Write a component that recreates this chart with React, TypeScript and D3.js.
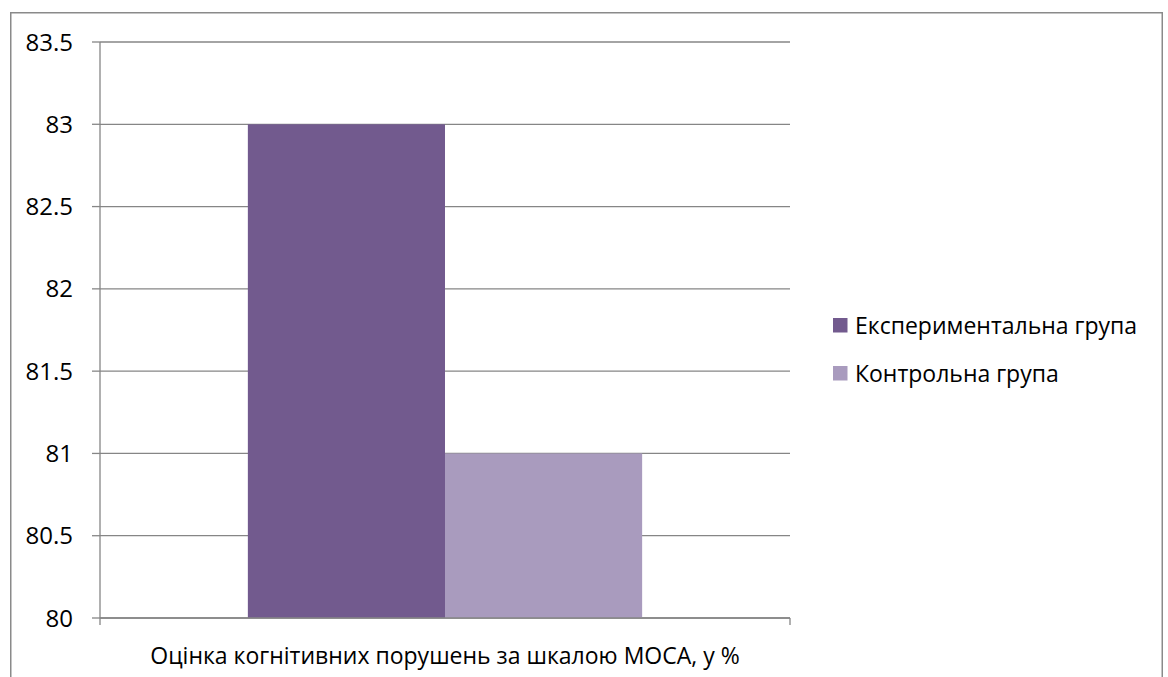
import React from "react";
import * as d3 from "d3";

const categories = ["Оцінка когнітивних порушень за шкалою МОСА, у %"];
const seriesNames = ["Експериментальна група", "Контрольна група"];
const seriesValues = [[83], [81]];
const seriesColors = ["#725A8E", "#A99BBE"];
const yTicks = [80, 80.5, 81, 81.5, 82, 82.5, 83, 83.5];

const W = 1168;
const H = 677;
const plot = { left: 100, right: 790, top: 42, bottom: 618 };
const FONT = "'Open Sans', 'Noto Sans', sans-serif";
const AXIS = "#868686";

export default function App() {
  const y = d3.scaleLinear().domain([80, 83.5]).range([plot.bottom, plot.top]);
  const x0 = d3.scaleBand<string>().domain(categories).range([plot.left, plot.right]).padding(0);
  const bw = x0.bandwidth();
  const w = bw / 3.5;
  const x1 = d3.scaleBand<string>().domain(seriesNames).range([0.75 * w, 2.75 * w]).padding(0);

  return (
    <svg
      width={W}
      height={H}
      style={{ position: "absolute", left: 0, top: 0, background: "#fff" }}
      fontFamily={FONT}
    >
      <rect x={10.75} y={12.75} width={1151.5} height={700} fill="#fff" stroke="#8a8a8a" strokeWidth={1.5} />
      {yTicks.map((t) => (
        <g key={t}>
          <line x1={plot.left} x2={plot.right} y1={y(t)} y2={y(t)} stroke={AXIS} strokeWidth={1.3} />
          <line x1={plot.left - 8} x2={plot.left} y1={y(t)} y2={y(t)} stroke={AXIS} strokeWidth={1.3} />
          <text x={73} y={y(t)} dy="0.36em" textAnchor="end" fontSize={24} fill="#000">
            {d3.format("")(t)}
          </text>
        </g>
      ))}
      {categories.map((c, ci) => (
        <g key={c}>
          {seriesNames.map((s, si) => {
            const v = seriesValues[si][ci];
            return (
              <rect
                key={s}
                x={(x0(c) ?? 0) + (x1(s) ?? 0)}
                y={y(v)}
                width={x1.bandwidth()}
                height={y(80) - y(v)}
                fill={seriesColors[si]}
              />
            );
          })}
          <text x={(x0(c) ?? 0) + bw / 2} y={664} textAnchor="middle" fontSize={23} fill="#000">
            {c}
          </text>
        </g>
      ))}
      <line x1={plot.left} x2={plot.left} y1={plot.top} y2={plot.bottom + 7} stroke={AXIS} strokeWidth={1.3} />
      <line x1={plot.left} x2={plot.right} y1={plot.bottom} y2={plot.bottom} stroke={AXIS} strokeWidth={1.3} />
      <line x1={plot.right} x2={plot.right} y1={plot.bottom} y2={plot.bottom + 7} stroke={AXIS} strokeWidth={1.3} />
      {seriesNames.map((s, i) => (
        <g key={s} transform={`translate(833, ${318 + i * 48})`}>
          <rect x={0} y={0} width={14.5} height={14.5} fill={seriesColors[i]} />
          <text x={22} y={15.5} fontSize={23} fill="#000">
            {s}
          </text>
        </g>
      ))}
    </svg>
  );
}
